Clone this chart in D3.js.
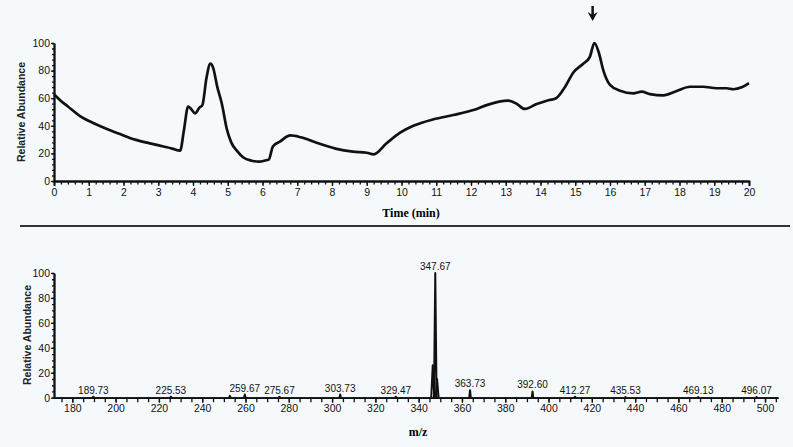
<!DOCTYPE html>
<html><head><meta charset="utf-8">
<script src="https://cdn.jsdelivr.net/npm/d3@7"></script>
<style>
html,body{margin:0;padding:0;background:#f6f9fc;}
svg{display:block;}
</style></head>
<body>
<script>
// ---- Chromatogram (top) ----
const timeMin = [0,0.2,0.4,0.75,1.13,1.52,1.9,2.33,2.76,3.15,3.4,3.63,3.74,3.86,3.95,4.06,4.18,4.27,4.39,4.5,4.58,4.7,4.83,4.97,5.1,5.26,5.45,5.69,5.9,6.1,6.18,6.3,6.5,6.8,7.1,7.6,8.1,8.6,9.0,9.2,9.57,9.96,10.34,10.92,11.49,12.07,12.45,13.07,13.31,13.55,13.89,14.18,14.45,14.71,14.94,15.23,15.42,15.55,15.67,15.81,16.0,16.29,16.67,16.91,17.15,17.53,17.92,18.3,18.68,19.07,19.36,19.55,19.79,20.0];
const ticAbund = [63,58,54,47,42,37.7,34,30,27.3,25,23.5,22,37,54,52,49,53,55,75,85,82,68,56,38,28,22,17,14.7,14,15,15.5,25,28.5,33,31.7,27.3,23.5,21.3,20.5,19.3,27.3,35,40,44.7,47.8,51.4,55,58.2,56,52.2,55.8,58.2,60,68.3,78.5,85,90,100,93.7,80,69.6,65.4,63.5,64.7,63,62.1,65.2,68.3,68.3,67.2,67.2,66.5,67.9,71];
const timeTicks = d3.range(0,21,1);
const arrowTime = 15.5;

// ---- Mass spectrum (bottom) ----
const peakMz  = [189.73,225.53,252.8,259.67,275.67,303.73,329.47,346.5,347.67,348.5,363.73,392.60,412.27,435.53,469.13,496.07];
const peakInt = [0.8,0.8,1.5,2.5,0.8,2.5,0.8,26,100,15,6,5,0.8,0.5,0.5,0.5];
const peakLabels = ["189.73","225.53","","259.67","275.67","303.73","329.47","","347.67","","363.73","392.60","412.27","435.53","469.13","496.07"];
const mzTicks = d3.range(180,501,20);
const abundTicks = [0,20,40,60,80,100];

const W=793,H=447;
const svg = d3.select("body").append("svg").attr("width",W).attr("height",H)
  .style("font-family","'Liberation Sans',Arial,sans-serif");
svg.append("rect").attr("width",W).attr("height",H).attr("fill","#f6f9fc");

const tickFont = "10.5px";

// ===== Top chart =====
const x1 = d3.scaleLinear().domain([0,20]).range([54,749]);
const y1 = d3.scaleLinear().domain([0,100]).range([181,43]);

svg.append("g").attr("transform","translate(0,181)")
  .call(d3.axisBottom(x1).tickValues(timeTicks).tickFormat(d3.format("d")).tickSize(5).tickPadding(3));
svg.append("g").attr("transform","translate(0,181)")
  .call(d3.axisBottom(x1).tickValues(d3.range(0,20.01,0.2)).tickFormat("").tickSize(3.5).tickSizeOuter(0));
svg.append("g").attr("transform","translate(54,0)")
  .call(d3.axisLeft(y1).tickValues(abundTicks).tickSize(3).tickPadding(1).tickSizeOuter(0));
svg.append("g").attr("transform","translate(54,0)")
  .call(d3.axisLeft(y1).tickValues(d3.range(0,100.1,4)).tickFormat("").tickSize(2).tickSizeOuter(0));

svg.append("path")
  .datum(timeMin.map((t,i)=>[t,ticAbund[i]]))
  .attr("fill","none").attr("stroke","#111").attr("stroke-width",2.7)
  .attr("stroke-linejoin","round")
  .attr("d", d3.line().x(d=>x1(d[0])).y(d=>y1(d[1])).curve(d3.curveMonotoneX));

// arrow
const ax = x1(arrowTime);
svg.append("line").attr("x1",ax).attr("x2",ax).attr("y1",6).attr("y2",16)
  .attr("stroke","#111").attr("stroke-width",2.5);
svg.append("path").attr("d",`M${ax-5},${12} L${ax},${21} L${ax+5},${12} L${ax},${15} Z`).attr("fill","#111");

svg.append("text").attr("x",411).attr("y",217).attr("text-anchor","middle")
  .style("font-family","'Liberation Serif','Times New Roman',serif").style("font-weight","bold").style("font-size","12px")
  .text("Time (min)");
svg.append("text").attr("transform","translate(25,112) rotate(-90)").attr("text-anchor","middle")
  .style("font-weight","bold").style("font-size","10.5px").attr("fill","#222").text("Relative Abundance");

// separator
svg.append("line").attr("x1",20).attr("x2",790).attr("y1",226).attr("y2",226)
  .attr("stroke","#333").attr("stroke-width",2);

// ===== Bottom chart =====
const x2 = d3.scaleLinear().domain([171.3,506]).range([53.5,778]);
const y2 = d3.scaleLinear().domain([0,100]).range([397.7,273]);

svg.append("g").attr("transform","translate(0,397.7)")
  .call(d3.axisBottom(x2).tickValues(mzTicks).tickFormat(d3.format("d")).tickSize(5).tickPadding(2).tickSizeOuter(0));
svg.append("g").attr("transform","translate(0,397.7)")
  .call(d3.axisBottom(x2).tickValues(d3.range(175,506,5)).tickFormat("").tickSize(4.5).tickSizeOuter(0));
svg.append("g").attr("transform","translate(54,0)")
  .call(d3.axisLeft(y2).tickValues(abundTicks).tickSize(3).tickPadding(1).tickSizeOuter(0));
svg.append("g").attr("transform","translate(54,0)")
  .call(d3.axisLeft(y2).tickValues(d3.range(0,100.1,5)).tickFormat("").tickSize(2).tickSizeOuter(0));

const hw = [0.35,0.35,0.35,0.35,0.35,0.35,0.35,0.7,0.6,0.7,0.35,0.35,0.35,0.35,0.35,0.35];
svg.append("g").selectAll("path").data(peakMz).join("path")
  .attr("fill","none").attr("stroke","#111").attr("stroke-width",2).attr("stroke-linejoin","round")
  .attr("d",(m,i)=>d3.line()([[x2(m-hw[i]),y2(0)],[x2(m),y2(peakInt[i])],[x2(m+hw[i]),y2(0)]]));

svg.append("g").selectAll("text").data(peakMz).join("text")
  .attr("x",m=>x2(m)).attr("y",(m,i)=>y2(peakInt[i])-3).attr("text-anchor","middle")
  .style("font-size","10px").attr("fill","#111")
  .text((m,i)=>peakLabels[i]);

svg.append("text").attr("x",418).attr("y",436).attr("text-anchor","middle")
  .style("font-family","'Liberation Serif','Times New Roman',serif").style("font-weight","bold").style("font-size","12px")
  .text("m/z");
svg.append("text").attr("transform","translate(31,335) rotate(-90)").attr("text-anchor","middle")
  .style("font-weight","bold").style("font-size","10.5px").attr("fill","#222").text("Relative Abundance");

// axis styling
svg.selectAll(".domain").attr("stroke","#111").attr("stroke-width",1.8);
svg.selectAll(".tick line").attr("stroke","#111").attr("stroke-width",1.3);
svg.selectAll(".tick text").style("font-size",tickFont).style("font-family","'Liberation Sans',Arial,sans-serif").attr("fill","#111");
</script>
</body></html>
